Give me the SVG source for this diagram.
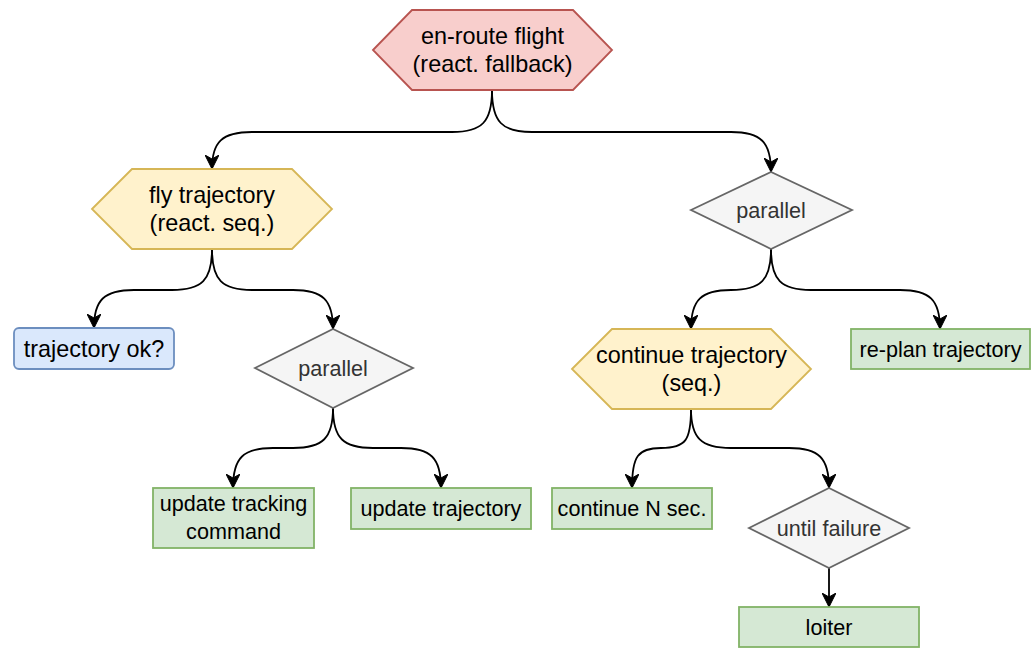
<svg xmlns="http://www.w3.org/2000/svg" width="1036" height="648" viewBox="0 0 1036 648">
<style>
text{font-family:"Liberation Sans",Arial,Helvetica,sans-serif;text-anchor:middle}
.b{font-size:23.4px;fill:#000}
.s{font-size:21.6px;fill:#000}
.g{font-size:21.6px;fill:#333333}
.red{fill:#f8cecc;stroke:#b85450;stroke-width:1.8}
.yel{fill:#fff2cc;stroke:#d6b656;stroke-width:1.8}
.blu{fill:#dae8fc;stroke:#6c8ebf;stroke-width:1.8}
.grn{fill:#d5e8d4;stroke:#82b366;stroke-width:1.8}
.gry{fill:#f5f5f5;stroke:#666666;stroke-width:1.8}
.e{fill:none;stroke:#000;stroke-width:1.8;marker-end:url(#arr)}
</style>
<defs>
<marker id="arr" markerUnits="userSpaceOnUse" viewBox="0 0 14 14" markerWidth="14" markerHeight="14" refX="14" refY="7" orient="auto">
<path d="M0,0 L14,7 L0,14 L4,7 Z" fill="#000" stroke="#000" stroke-width="1"/>
</marker>
</defs>
<g id="connectors">
<path class="e" d="M492,90 C492,122 482,132 452,132 L252,132 C222,132 212,142 212,169"/>
<path class="e" d="M492,90 C492,122 502,132 532,132 L731,132 C761,132 771,142 771,172"/>
<path class="e" d="M212,249 C212,280 202,290 172,290 L134,290 C104,290 94,300 94,328"/>
<path class="e" d="M212,249 C212,280 222,290 252,290 L293,290 C323,290 333,300 333,329"/>
<path class="e" d="M333,408 C333,438 323,448 293,448 L273,448 C243,448 233,458 233,488"/>
<path class="e" d="M333,408 C333,438 343,448 373,448 L401,448 C431,448 441,458 441,488"/>
<path class="e" d="M771,249 C771,280 761,290 731,290 C701,290 691,300 691,329"/>
<path class="e" d="M771,249 C771,280 781,290 811,290 L900,290 C930,290 940,300 940,329"/>
<path class="e" d="M691,409 C691,440 686,448 661,448 C638,448 632,456 632,488"/>
<path class="e" d="M691,409 C691,438 701,448 731,448 L789,448 C819,448 829,458 829,488"/>
<path class="e" d="M829,568 L829,607"/>
</g>
<g id="en-route">
<polygon class="red" points="373,50 412,10 573,10 612,50 573,90 412,90"/>
<text class="b" x="492.5" y="44">en-route flight</text>
<text class="b" x="492.5" y="72">(react. fallback)</text>
</g>
<g id="fly-trajectory">
<polygon class="yel" points="92,209 132,169 292,169 332,209 292,249 132,249"/>
<text class="b" x="212" y="203">fly trajectory</text>
<text class="b" x="212" y="231">(react. seq.)</text>
</g>
<g id="parallel-right">
<polygon class="gry" points="691,210 771,172 852,210 771,249"/>
<text class="g" x="771" y="218">parallel</text>
</g>
<g id="trajectory-ok">
<rect class="blu" x="14" y="328" width="160" height="41" rx="5"/>
<text class="b" x="94" y="357">trajectory ok?</text>
</g>
<g id="parallel-left">
<polygon class="gry" points="255,368 333,329 413,368 333,408"/>
<text class="g" x="333" y="376">parallel</text>
</g>
<g id="continue-trajectory">
<polygon class="yel" points="572,369 612,329 771,329 811,369 771,409 612,409"/>
<text class="b" x="691.5" y="363">continue trajectory</text>
<text class="b" x="691.5" y="391">(seq.)</text>
</g>
<g id="re-plan">
<rect class="grn" x="851" y="329" width="179" height="40"/>
<text class="s" x="940.5" y="357">re-plan trajectory</text>
</g>
<g id="update-tracking">
<rect class="grn" x="153" y="488" width="161" height="60"/>
<text class="s" x="233.5" y="511">update tracking</text>
<text class="s" x="233.5" y="539">command</text>
</g>
<g id="update-trajectory">
<rect class="grn" x="351" y="488" width="180" height="41"/>
<text class="s" x="441" y="516">update trajectory</text>
</g>
<g id="continue-n">
<rect class="grn" x="552" y="488" width="160" height="41"/>
<text class="s" x="632" y="516">continue N sec.</text>
</g>
<g id="until-failure">
<polygon class="gry" points="749,528 829,488 909,528 829,568"/>
<text class="g" x="829" y="536">until failure</text>
</g>
<g id="loiter">
<rect class="grn" x="739" y="607" width="180" height="40"/>
<text class="s" x="829" y="635">loiter</text>
</g>
</svg>
